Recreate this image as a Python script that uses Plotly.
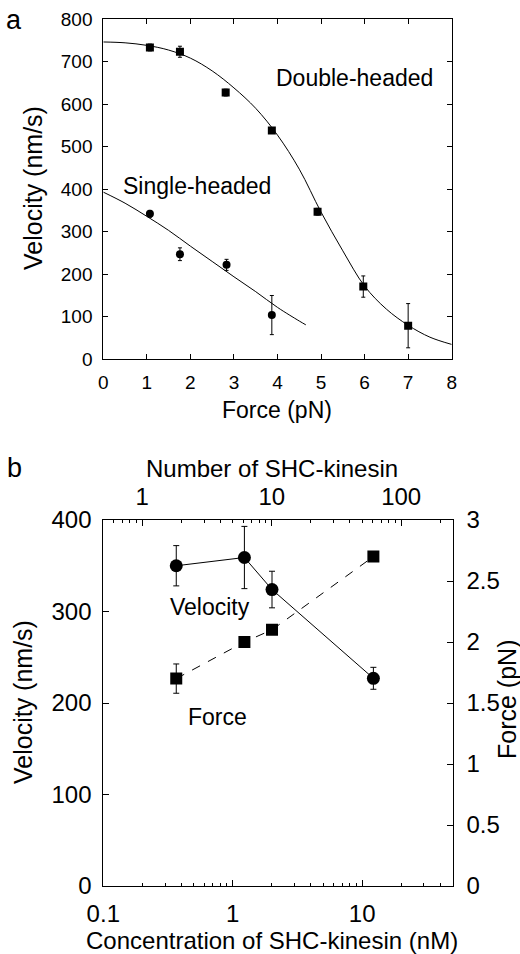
import plotly.graph_objects as go

W, H = 520, 954
FONT = "Liberation Sans, Arial, Helvetica, sans-serif"

# ---------------- Panel a data ----------------
dh_force = [1.07, 1.76, 2.81, 3.87, 4.92, 5.97, 7.0]
dh_vel = [733, 723, 627, 538, 347, 171, 79]
dh_err = [8, 13, 8, 6, 8, 25, 52]

sh_force = [1.07, 1.76, 2.83, 3.87]
sh_vel = [342, 247, 222, 104]
sh_err = [8, 15, 13, 46]

dh_fit_f = [0, 0.5, 1, 1.5, 2, 2.5, 3, 3.5, 4, 4.5, 5, 5.5, 6, 6.5, 7, 7.5, 8]
dh_fit_v = [746, 744, 738, 727, 708, 678, 638, 590, 527, 447, 346, 255, 172, 118, 80, 52, 35]

sh_fit_f = [0, 0.5, 1, 1.5, 2, 2.5, 3, 3.5, 4, 4.5, 4.65]
sh_fit_v = [393, 367, 336, 303, 266, 230, 194, 159, 122, 90, 81]

# ---------------- Panel b data ----------------
conc = [0.366, 1.23, 2.01, 12.2]
velocity = [350, 359, 324, 227]
velocity_err = [22, 34, 20, 12]
force = [1.70, 2.0, 2.1, 2.7]
force_err = [0.12, 0, 0, 0]

x_ticks_a = [0, 1, 2, 3, 4, 5, 6, 7, 8]
y_ticks_a = [0, 100, 200, 300, 400, 500, 600, 700, 800]
conc_ticks = [0.1, 1, 10]
conc_minor = [0.2, 0.3, 0.4, 0.5, 0.6, 0.7, 0.8, 0.9,
              2, 3, 4, 5, 6, 7, 8, 9, 20, 30, 40]
num_ticks = [1, 10, 100]
num_minor = [0.6, 0.7, 0.8, 0.9, 2, 3, 4, 5, 6, 7, 8, 9,
             20, 30, 40, 50, 60, 70, 80, 90, 200]
vel_ticks_b = [0, 100, 200, 300, 400]
force_ticks_b = [0, 0.5, 1, 1.5, 2, 2.5, 3]
force_tick_text = ["0", "0.5", "1", "1.5", "2", "2.5", "3"]


def px(x):
    return x / W


def py(y):
    return 1 - y / H


fig = go.Figure()

# Panel a
fig.add_trace(go.Scatter(x=dh_fit_f, y=dh_fit_v, mode="lines",
                         line=dict(color="black", width=1, shape="spline", smoothing=1.0),
                         xaxis="x", yaxis="y", hoverinfo="skip"))
fig.add_trace(go.Scatter(x=sh_fit_f, y=sh_fit_v, mode="lines",
                         line=dict(color="black", width=1, shape="spline", smoothing=1.0),
                         xaxis="x", yaxis="y", hoverinfo="skip"))
fig.add_trace(go.Scatter(x=dh_force, y=dh_vel, mode="markers",
                         marker=dict(symbol="square", size=8, color="black"),
                         error_y=dict(type="data", array=dh_err, color="black",
                                      thickness=1, width=2),
                         xaxis="x", yaxis="y"))
fig.add_trace(go.Scatter(x=sh_force, y=sh_vel, mode="markers",
                         marker=dict(symbol="circle", size=8, color="black"),
                         error_y=dict(type="data", array=sh_err, color="black",
                                      thickness=1, width=2),
                         xaxis="x", yaxis="y"))

# Panel b
fig.add_trace(go.Scatter(x=conc, y=velocity, mode="lines+markers",
                         line=dict(color="black", width=1),
                         marker=dict(symbol="circle", size=13, color="black"),
                         error_y=dict(type="data", array=velocity_err, color="black",
                                      thickness=1, width=3),
                         xaxis="x2", yaxis="y2"))
fig.add_trace(go.Scatter(x=conc, y=force, mode="lines+markers",
                         line=dict(color="black", width=1, dash="dash"),
                         marker=dict(symbol="square", size=12, color="black"),
                         error_y=dict(type="data", array=force_err, color="black",
                                      thickness=1, width=3),
                         xaxis="x2", yaxis="y3"))
# invisible trace to hold the top (number) axis
fig.add_trace(go.Scatter(x=num_ticks, y=[None] * len(num_ticks), mode="markers",
                         marker=dict(opacity=0), xaxis="x3", yaxis="y2",
                         hoverinfo="skip"))

axis_common = dict(showgrid=False, zeroline=False, showline=True, linecolor="black",
                   linewidth=1, ticks="inside", tickcolor="black", tickwidth=1,
                   mirror="ticks", color="black", automargin=False)

dom_a_x = [px(103.3), px(451.7)]
dom_a_y = [py(359.3), py(19)]
dom_b_x = [px(103.3), px(452.7)]
dom_b_y = [py(886), py(520)]

fig.update_layout(
    width=W, height=H, margin=dict(l=0, r=0, t=0, b=0, autoexpand=False),
    paper_bgcolor="white", plot_bgcolor="white", showlegend=False,
    font=dict(family=FONT, color="black"),
    xaxis=dict(axis_common, domain=dom_a_x, range=[0, 8], tickvals=x_ticks_a,
               ticklen=5, anchor="y", tickfont=dict(size=19), ticklabelstandoff=6),
    yaxis=dict(axis_common, domain=dom_a_y, range=[0, 800], tickvals=y_ticks_a,
               ticklen=5, anchor="x", tickfont=dict(size=19), ticklabelstandoff=6),
    xaxis2=dict(axis_common, domain=dom_b_x, type="log",
                range=[-1, 1.69897], tickvals=conc_ticks, ticktext=["0.1", "1", "10"],
                ticklen=6, mirror=False, anchor="y2", tickfont=dict(size=24),
                ticklabelstandoff=6,
                minor=dict(tickvals=conc_minor, ticks="inside", ticklen=3,
                           tickcolor="black", tickwidth=1)),
    xaxis3=dict(axis_common, domain=dom_b_x, type="log", overlaying="x2", side="top",
                range=[-0.30103, 2.39794], tickvals=num_ticks, ticktext=["1", "10", "100"],
                ticklen=6, mirror=False, anchor="y2", tickfont=dict(size=24),
                ticklabelstandoff=4,
                minor=dict(tickvals=num_minor, ticks="inside", ticklen=3,
                           tickcolor="black", tickwidth=1)),
    yaxis2=dict(axis_common, domain=dom_b_y, range=[0, 400], tickvals=vel_ticks_b,
                ticklen=6, mirror=False, anchor="x2", tickfont=dict(size=24),
                ticklabelstandoff=6),
    yaxis3=dict(axis_common, domain=dom_b_y, range=[0, 3], tickvals=force_ticks_b,
                ticktext=force_tick_text, ticklen=6, mirror=False, side="right",
                overlaying="y2", anchor="x2", tickfont=dict(size=24),
                ticklabelstandoff=8),
)

ann = []


def text(x, y, s, size, angle=0, xanchor="center"):
    ann.append(dict(x=px(x), y=py(y), xref="paper", yref="paper", text=s,
                    showarrow=False, xanchor=xanchor, yanchor="middle",
                    textangle=angle, font=dict(size=size, family=FONT, color="black")))


text(14, 20, "a", 27)
text(14, 468, "b", 27)
text(354, 78, "Double-headed", 23)
text(197, 186, "Single-headed", 23)
text(33, 188, "Velocity (nm/s)", 25, angle=-90)
text(277, 410, "Force (pN)", 23)
text(272, 468, "Number of SHC-kinesin", 24)
text(272, 940, "Concentration of SHC-kinesin (nM)", 24)
text(23, 702, "Velocity (nm/s)", 25, angle=-90)
text(507, 700, "Force (pN)", 25, angle=-90)
text(210, 607, "Velocity", 23)
text(217, 717, "Force", 23)
fig.update_layout(annotations=ann)

fig.write_html("out.html")
